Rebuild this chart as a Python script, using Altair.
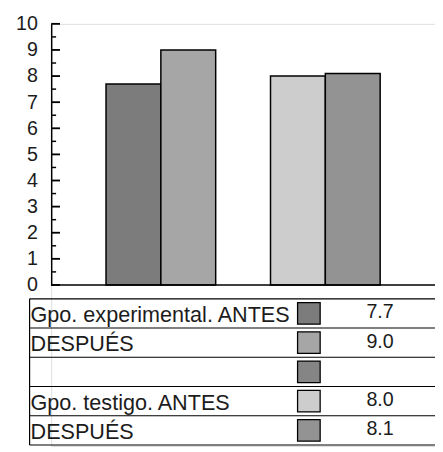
import altair as alt
import pandas as pd

# ---- data ----
series = ["Gpo. experimental. ANTES", "Gpo. experimental. DESPUÉS", "(sin datos)",
          "Gpo. testigo. ANTES", "Gpo. testigo. DESPUÉS"]
values = [7.7, 9.0, None, 8.0, 8.1]
table_labels = ["Gpo. experimental. ANTES", "DESPUÉS", "", "Gpo. testigo. ANTES", "DESPUÉS"]
value_labels = ["7.7", "9.0", "", "8.0", "8.1"]
fills = ["#7c7c7c", "#a6a6a6", "#858585", "#cdcdcd", "#939393"]
y_ticks = list(range(0, 11))
y_minor = [i + 0.5 for i in range(0, 10)]

FONT = "Liberation Sans"
INK = "#1c1c1c"
# table layout below the plot, in axis units (the y scale extends linearly below 0)
TOP = -0.53
ROW = 1.12

bars_df = pd.DataFrame({"series": series, "value": values, "fill": fills}).dropna(subset=["value"])
ticks_df = pd.DataFrame({"tv": y_ticks})
minor_df = pd.DataFrame({"mv": y_minor})
base_df = pd.DataFrame({"v": [0]})
rows_df = pd.DataFrame({"row": list(range(len(table_labels))), "label": table_labels,
                        "val": value_labels, "fill": fills})
lines_df = pd.DataFrame({"k": list(range(len(table_labels) + 1))})
frame_df = pd.DataFrame({"k0": [0], "k1": [len(table_labels)]})

yscale = alt.Scale(domain=[0, 10], range=[266, 0], nice=False, zero=True, clamp=False)
xscale = alt.Scale(domain=series, paddingInner=0, paddingOuter=1)
yaxis = alt.Axis(values=y_ticks, ticks=False, grid=False, domain=True, domainColor="black",
                 domainWidth=1.5, labelFont=FONT, labelFontSize=20, labelColor=INK,
                 labelPadding=14, title="")


def Y(field):
    return alt.Y(field, scale=yscale, axis=yaxis, title="")


def pos(expr):
    return f"{TOP} - ({expr}) * {ROW}"


bars = alt.Chart(bars_df).mark_bar(stroke="black", strokeWidth=1.5).encode(
    x=alt.X("series:N", scale=xscale, axis=None),
    y=Y("value:Q"),
    fill=alt.Fill("fill:N", scale=None),
)

# inward-pointing tick marks drawn as thin rectangles
major = alt.Chart(ticks_df).transform_calculate(
    t0="datum.tv - 0.035", t1="datum.tv + 0.035").mark_rect(color="black").encode(
    y=Y("t0:Q"), y2="t1:Q", x=alt.value(0), x2=alt.value(9))
minor = alt.Chart(minor_df).transform_calculate(
    m0="datum.mv - 0.028", m1="datum.mv + 0.028").mark_rect(color="black").encode(
    y=Y("m0:Q"), y2="m1:Q", x=alt.value(0), x2=alt.value(5))
baseline = alt.Chart(base_df).mark_rule(color="black", strokeWidth=1.5).encode(
    y=Y("v:Q"), x=alt.value(0), x2=alt.value(391))

row_lines = alt.Chart(lines_df).transform_calculate(yb=pos("datum.k")).mark_rule(
    color="black", strokeWidth=1.2).encode(
    y=Y("yb:Q"), x=alt.value(-22), x2=alt.value(391))
frame = alt.Chart(frame_df).transform_calculate(
    ya=pos("datum.k0"), yz=pos("datum.k1")).mark_rule(color="black", strokeWidth=1.2).encode(
    y=Y("ya:Q"), y2="yz:Q", x=alt.value(-22))
labels = alt.Chart(rows_df).transform_calculate(mid=pos("datum.row + 0.5")).mark_text(
    align="left", baseline="middle", font=FONT, fontSize=22, color=INK, dy=2).encode(
    y=Y("mid:Q"), x=alt.value(-21), text="label:N")
vals = alt.Chart(rows_df).transform_calculate(mid=pos("datum.row + 0.5")).mark_text(
    align="center", baseline="middle", font=FONT, fontSize=20, color=INK, dy=-1).encode(
    y=Y("mid:Q"), x=alt.value(335), text="val:N")
swatches = alt.Chart(rows_df).transform_calculate(
    y0=pos("datum.row + 0.13"), y1=pos("datum.row + 0.87")).mark_rect(
    stroke="black", strokeWidth=1.3).encode(
    y=Y("y0:Q"), y2="y1:Q",
    x=alt.value(251), x2=alt.value(274), fill=alt.Fill("fill:N", scale=None))

chart = alt.layer(
    bars, baseline, row_lines, frame, swatches, labels, vals, major, minor
).properties(
    width=391, height=430,
    autosize=alt.AutoSizeParams(type="none"),
    padding={"left": 44, "top": 12, "right": 0, "bottom": 0},
).configure_view(stroke=None).configure(background="white")

chart.save("out.html", embed_options={"renderer": "svg", "actions": False})
